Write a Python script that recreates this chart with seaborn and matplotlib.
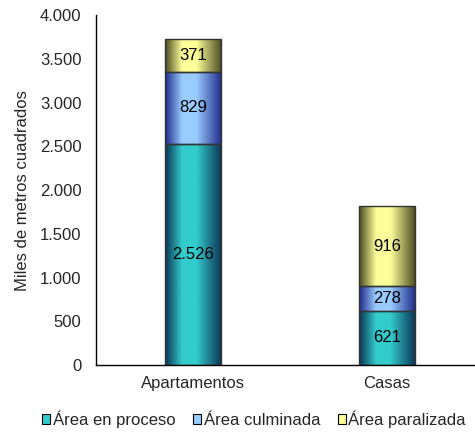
import matplotlib
matplotlib.use('Agg')
import matplotlib.pyplot as plt
from matplotlib.colors import LinearSegmentedColormap
from matplotlib.patches import Patch
import numpy as np
import pandas as pd
import seaborn as sns

# data
categorias = ['Apartamentos', 'Casas']
series = ['Área en proceso', 'Área culminada', 'Área paralizada']
en_proceso = [2526, 621]
culminada = [829, 278]
paralizada = [371, 916]
yticks = [0, 500, 1000, 1500, 2000, 2500, 3000, 3500, 4000]

# (dark edge, light centre) for each series
colores = [('#0b3355', '#33cccc'), ('#1f2a8a', '#99ccff'), ('#4a4a22', '#ffff99')]

sns.set_style('white')
plt.rcParams['font.family'] = ['Liberation Sans', 'DejaVu Sans']
plt.rcParams['font.size'] = 12

fig = plt.figure(figsize=(4.75, 4.32), dpi=100)
ax = fig.add_axes([0.202, 0.155, 0.817, 0.81])

valores = [en_proceso, culminada, paralizada]
base = np.zeros(len(categorias))
for nombre, vals in zip(series, valores):
    df = pd.DataFrame({'cat': categorias, 'val': vals, 'base': base.copy()})
    sns.barplot(data=df, x='cat', y='val', bottom=df['base'], ax=ax, width=0.29,
                color='white', edgecolor='#333333', linewidth=1.0, errorbar=None)
    base = base + np.array(vals)

grad = np.linspace(0, 1, 200).reshape(1, -1)
patches = list(ax.patches)
for i, (oscuro, claro) in enumerate(colores):
    cmap = LinearSegmentedColormap.from_list(
        'g%d' % i, [(0, oscuro), (0.3, claro), (0.55, claro), (1, oscuro)])
    for j in range(len(categorias)):
        p = patches[i * len(categorias) + j]
        x0, y0, w, h = p.get_x(), p.get_y(), p.get_width(), p.get_height()
        im = ax.imshow(grad, extent=[x0, x0 + w, y0, y0 + h], aspect='auto',
                       cmap=cmap, zorder=p.get_zorder() - 0.1, interpolation='bilinear')
        im.set_clip_path(p)
        p.set_facecolor('none')
        ax.text(x0 + w / 2, y0 + h / 2, f'{valores[i][j]:,}'.replace(',', '.'),
                ha='center', va='center', fontsize=12, color='black', zorder=5)

ax.set_xlim(-0.5, 1.5)
ax.set_ylim(0, 4000)
ax.set_yticks(yticks)
ax.set_yticklabels([f'{v:,}'.replace(',', '.') for v in yticks])
ax.set_xticks([-0.5, 0.5, 1.5])
ax.set_xticklabels([])
ax.set_xticks([0, 1], minor=True)
ax.set_xticklabels(categorias, minor=True)
ax.tick_params(axis='x', which='major', direction='out', length=4.5, width=1, color='black')
ax.tick_params(axis='x', which='minor', length=0, pad=8)
ax.tick_params(axis='y', direction='out', length=4.5, width=1, color='black', pad=6)
ax.set_xlabel('')
ax.set_ylabel('Miles de metros cuadrados', fontsize=12, labelpad=7)

for s in ['top', 'right']:
    ax.spines[s].set_visible(False)
for s in ['left', 'bottom']:
    ax.spines[s].set_color('black')
    ax.spines[s].set_linewidth(1.0)

handles = [Patch(facecolor=c[1], edgecolor='black', linewidth=0.8) for c in colores]
fig.legend(handles, series, loc='center left', bbox_to_anchor=(0.088, 0.03), ncol=3,
           frameon=False, handlelength=0.5, handleheight=0.6, handletextpad=0.15,
           columnspacing=1.05, fontsize=12, borderpad=0, borderaxespad=0)

fig.savefig('out.png', dpi=100)
